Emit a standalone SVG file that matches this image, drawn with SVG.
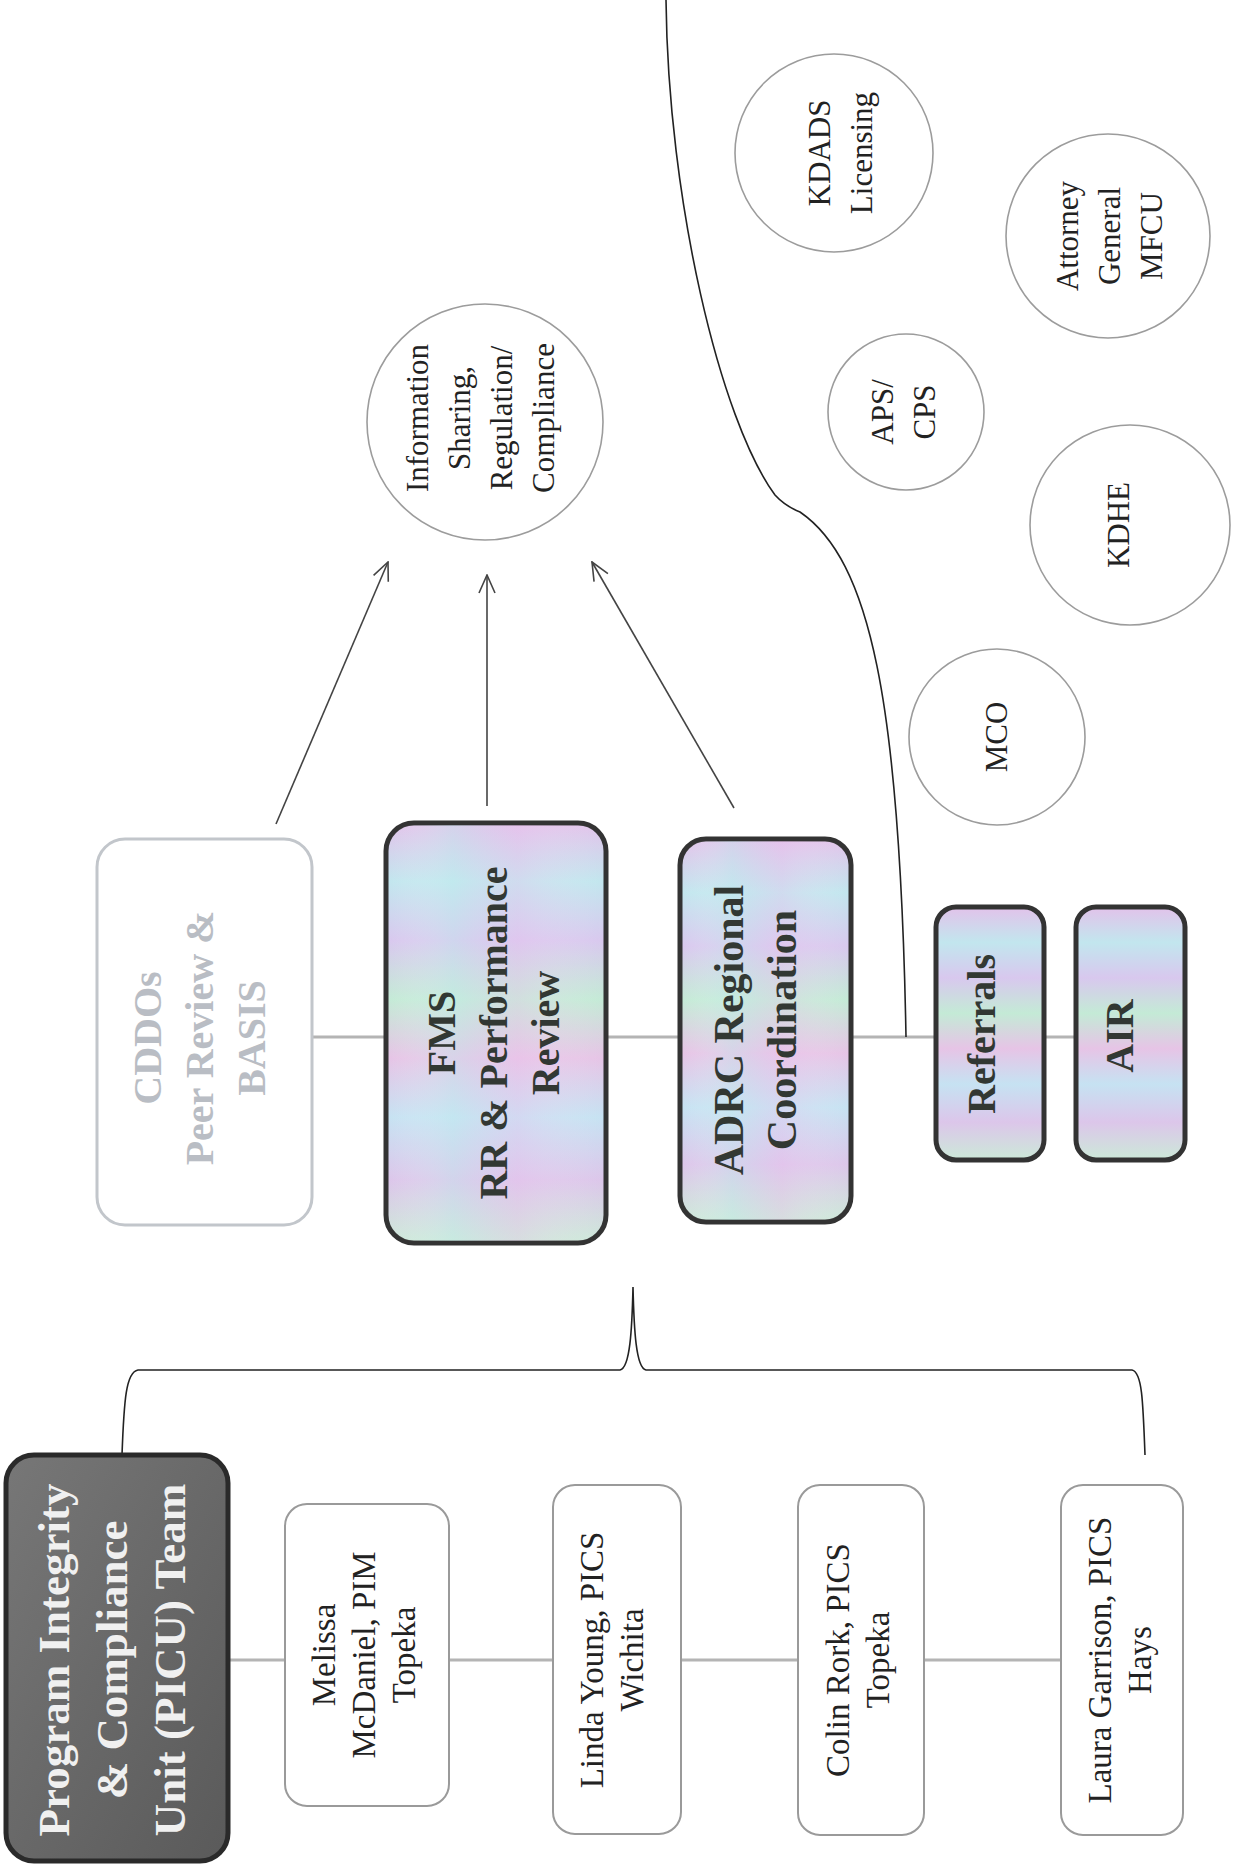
<svg xmlns="http://www.w3.org/2000/svg" width="1252" height="1864" viewBox="0 0 1252 1864">
<defs>
<linearGradient id="iri" x1="0" y1="0" x2="0" y2="1">
<stop offset="0" stop-color="#e2c2ea"/>
<stop offset="0.14" stop-color="#c2e6ee"/>
<stop offset="0.28" stop-color="#d8c8ee"/>
<stop offset="0.42" stop-color="#c4ead6"/>
<stop offset="0.56" stop-color="#e6c4e6"/>
<stop offset="0.7" stop-color="#c6e2f2"/>
<stop offset="0.85" stop-color="#dcc6ea"/>
<stop offset="1" stop-color="#cce9d8"/>
</linearGradient>
<linearGradient id="iri2" x1="0" y1="0" x2="1" y2="0">
<stop offset="0" stop-color="#ffffff" stop-opacity="0"/>
<stop offset="0.3" stop-color="#bfeeee" stop-opacity="0.35"/>
<stop offset="0.6" stop-color="#f0c2f0" stop-opacity="0.3"/>
<stop offset="1" stop-color="#ffffff" stop-opacity="0"/>
</linearGradient>
<linearGradient id="dark" x1="0" y1="0" x2="1" y2="1">
<stop offset="0" stop-color="#777"/>
<stop offset="1" stop-color="#5a5a5a"/>
</linearGradient>
<marker id="arr" viewBox="0 0 20 20" refX="19" refY="10" markerWidth="20" markerHeight="20" markerUnits="userSpaceOnUse" orient="auto">
<path d="M1,2 L19,10 L1,18" fill="none" stroke="#444" stroke-width="1.6"/>
</marker>
<style>
.serif{font-family:"Liberation Serif","Times New Roman",serif;}
.bold{font-family:"Liberation Serif","Times New Roman",serif;font-weight:bold;font-size:40px;fill:#323833;text-anchor:middle;}
.person{fill:#fff;stroke:#9a9a9a;stroke-width:2;}
.ptext{font-family:"Liberation Serif","Times New Roman",serif;font-size:33px;fill:#222;text-anchor:middle;}
.ctext{font-family:"Liberation Serif","Times New Roman",serif;font-size:31px;fill:#222;text-anchor:middle;}
.circ{fill:#fff;stroke:#9c9c9c;stroke-width:1.6;}
.cbox{fill:url(#iri);stroke:#333;stroke-width:5;}
.gline{stroke:#b4b4b4;stroke-width:3;fill:none;}
.curve{stroke:#222;stroke-width:1.6;fill:none;}
.arrow{stroke:#444;stroke-width:1.6;fill:none;marker-end:url(#arr);}
</style>
</defs>
<rect width="1252" height="1864" fill="#fff"/>

<g id="connectors">
<line class="gline" x1="312" y1="1037" x2="1076" y2="1037"/>
<line class="gline" x1="228" y1="1660" x2="1061" y2="1660"/>
<path class="curve" d="M122,1455 C124,1400 126,1372 138,1370 L620,1370 C630,1368 632,1330 633,1287 C634,1330 636,1368 646,1370 L1132,1370 C1142,1372 1143,1400 1145,1455"/>
<path class="curve" d="M666,0 C668,200 720,420 775,495 Q785,506 800,512 C870,560 900,700 906,1037"/>
<line class="arrow" x1="276" y1="824" x2="388" y2="562"/>
<line class="arrow" x1="487" y1="806" x2="487" y2="575"/>
<line class="arrow" x1="734" y1="808" x2="592" y2="562"/>
</g>

<g id="picu">
<rect x="6" y="1455" width="222" height="406" rx="28" fill="url(#dark)" stroke="#2a2a2a" stroke-width="5"/>
<text class="serif" transform="translate(112,1660) rotate(-90)" font-size="45" font-weight="bold" fill="#f0f0f0" text-anchor="middle"><tspan x="0" y="-43">Program Integrity</tspan><tspan x="0" y="15">&amp; Compliance</tspan><tspan x="0" y="73">Unit (PICU) Team</tspan></text>
</g>

<g id="melissa">
<rect class="person" x="285" y="1504" width="164" height="302" rx="22"/>
<text class="ptext" transform="translate(364,1655) rotate(-90)"><tspan x="0" y="-29">Melissa</tspan><tspan x="0" y="11">McDaniel, PIM</tspan><tspan x="0" y="51">Topeka</tspan></text>
</g>

<g id="linda">
<rect class="person" x="553" y="1485" width="128" height="349" rx="22"/>
<text class="ptext" transform="translate(612,1660) rotate(-90)"><tspan x="0" y="-9">Linda Young, PICS</tspan><tspan x="0" y="31">Wichita</tspan></text>
</g>

<g id="colin">
<rect class="person" x="798" y="1485" width="126" height="350" rx="22"/>
<text class="ptext" transform="translate(858,1660) rotate(-90)"><tspan x="0" y="-9">Colin Rork, PICS</tspan><tspan x="0" y="31">Topeka</tspan></text>
</g>

<g id="laura">
<rect class="person" x="1061" y="1485" width="122" height="350" rx="22"/>
<text class="ptext" transform="translate(1120,1660) rotate(-90)"><tspan x="0" y="-9">Laura Garrison, PICS</tspan><tspan x="0" y="31">Hays</tspan></text>
</g>

<g id="cddos">
<rect x="97" y="839" width="215" height="386" rx="28" fill="#fff" stroke="#c2c6cb" stroke-width="3"/>
<text class="bold" transform="translate(200,1038) rotate(-90)" style="fill:#b9bdc4"><tspan x="0" y="-39">CDDOs</tspan><tspan x="0" y="13">Peer Review &amp;</tspan><tspan x="0" y="65">BASIS</tspan></text>
</g>

<g id="fms">
<rect class="cbox" x="386" y="823" width="220" height="420" rx="28"/>
<rect x="388" y="825" width="216" height="416" rx="26" fill="url(#iri2)"/>
<text class="bold" transform="translate(494,1033) rotate(-90)"><tspan x="0" y="-39">FMS</tspan><tspan x="0" y="13">RR &amp; Performance</tspan><tspan x="0" y="65">Review</tspan></text>
</g>

<g id="adrc">
<rect class="cbox" x="680" y="839" width="171" height="383" rx="26"/>
<rect x="682" y="841" width="167" height="379" rx="24" fill="url(#iri2)"/>
<text class="bold" transform="translate(756,1030) rotate(-90)" style="font-size:42px"><tspan x="0" y="-13">ADRC Regional</tspan><tspan x="0" y="40">Coordination</tspan></text>
</g>

<g id="referrals">
<rect class="cbox" x="936" y="907" width="108" height="253" rx="20"/>
<text class="bold" transform="translate(982,1034) rotate(-90)"><tspan x="0" y="13">Referrals</tspan></text>
</g>

<g id="air">
<rect class="cbox" x="1076" y="907" width="109" height="253" rx="20"/>
<text class="bold" transform="translate(1120,1036) rotate(-90)"><tspan x="0" y="13">AIR</tspan></text>
</g>

<g id="info">
<circle class="circ" cx="485" cy="422" r="118"/>
<text class="ctext" transform="translate(481,418) rotate(-90)" font-size="32"><tspan x="0" y="-53">Information</tspan><tspan x="0" y="-11">Sharing,</tspan><tspan x="0" y="31">Regulation/</tspan><tspan x="0" y="73">Compliance</tspan></text>
</g>

<g id="kdads">
<circle class="circ" cx="834" cy="153" r="99"/>
<text class="ctext" transform="translate(840,153) rotate(-90)" font-size="32"><tspan x="0" y="-10">KDADS</tspan><tspan x="0" y="32">Licensing</tspan></text>
</g>

<g id="ag">
<circle class="circ" cx="1108" cy="236" r="102"/>
<text class="ctext" transform="translate(1110,236) rotate(-90)"><tspan x="0" y="-32">Attorney</tspan><tspan x="0" y="10">General</tspan><tspan x="0" y="52">MFCU</tspan></text>
</g>

<g id="aps">
<circle class="circ" cx="906" cy="412" r="78"/>
<text class="ctext" transform="translate(904,412) rotate(-90)"><tspan x="0" y="-11">APS/</tspan><tspan x="0" y="31">CPS</tspan></text>
</g>

<g id="kdhe">
<circle class="circ" cx="1130" cy="525" r="100"/>
<text class="ctext" transform="translate(1118,525) rotate(-90)" font-size="32"><tspan x="0" y="11">KDHE</tspan></text>
</g>

<g id="mco">
<circle class="circ" cx="997" cy="737" r="88"/>
<text class="ctext" transform="translate(996,737) rotate(-90)"><tspan x="0" y="11">MCO</tspan></text>
</g>
</svg>
